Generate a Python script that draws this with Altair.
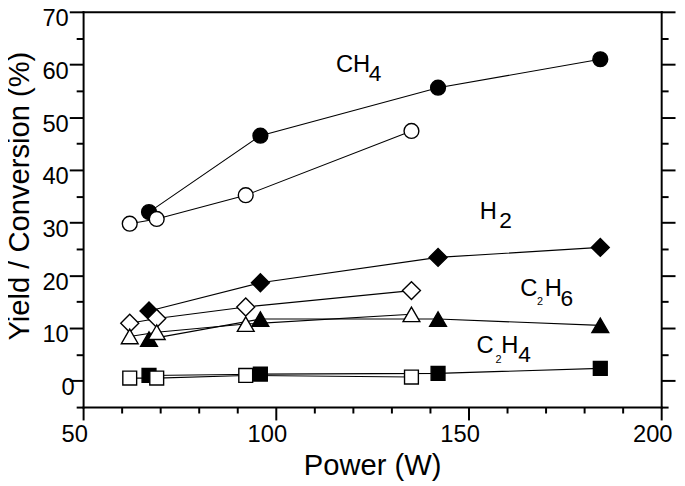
import altair as alt
import pandas as pd

FONT = "Liberation Sans"

# ---- data ----
power_filled = [67.1, 96.0, 142.1, 184.2]
power_open = [62.1, 69.1, 92.2, 135.2]

ch4_filled = [32.0, 46.5, 55.6, 61.0]
ch4_open = [29.8, 30.7, 35.2, 47.4]
h2_filled = [13.25, 18.6, 23.4, 25.3]
h2_open = [10.9, 11.8, 14.0, 17.1]
c2h6_filled = [7.9, 11.7, 11.7, 10.5]
c2h6_open = [8.4, 9.2, 10.75, 12.6]
c2h4_filled = [1.0, 1.25, 1.4, 2.35]
c2h4_open = [0.5, 0.5, 1.0, 0.7]

species = ["CH4", "H2", "C2H6", "C2H4"]
shapes = ["circle", "diamond", "triangle-up", "square"]
filled_vals = [ch4_filled, h2_filled, c2h6_filled, c2h4_filled]
open_vals = [ch4_open, h2_open, c2h6_open, c2h4_open]

# annotation pieces (chemical formulas with subscripts)
label_text = ["CH", "4", "H", "2", "C", "2", "H", "6", "C", "2", "H", "4"]
label_x = [115.6, 124.1, 152.9, 158.0, 163.4, 167.8, 169.8, 173.9, 152.1, 157.0, 158.5, 162.9]
label_y = [58.65, 56.8, 30.7, 28.9, 16.0, 14.3, 16.0, 14.15, 5.2, 3.35, 5.2, 3.5]
label_size = [24, 23, 24, 23, 24, 11, 24, 23, 24, 11, 24, 23]

rows = []
for sp, shp, fv, ov in zip(species, shapes, filled_vals, open_vals):
    for p, v in zip(power_filled, fv):
        rows.append({"series": sp + "_filled", "shape": shp, "kind": "filled", "power": p, "value": v})
    for p, v in zip(power_open, ov):
        rows.append({"series": sp + "_open", "shape": shp, "kind": "open", "power": p, "value": v})
df = pd.DataFrame(rows)
labels = pd.DataFrame({"text": label_text, "x": label_x, "y": label_y, "size": label_size})

marker_size = {"circle": 225, "diamond": 330, "triangle-up": 289, "square": 196}

x_scale = alt.Scale(domain=[50, 200], nice=False, zero=False)
y_scale = alt.Scale(domain=[-5, 70], nice=False, zero=False)

x_axis = alt.Axis(
    orient="bottom",
    values=list(range(50, 201, 10)),
    labelExpr="datum.value % 50 === 0 ? datum.label : ''",
    tickSize={"condition": {"test": "datum.value % 50 === 0", "value": 13}, "value": 6},
    tickWidth=2, tickColor="black", domainWidth=2, domainColor="black",
    labelFont=FONT, labelFontSize=24, labelColor="black", labelPadding=3, labelOffset=-9,
    labelOverlap=False, labelFlush=False, grid=False,
    title="Power (W)", titleFont=FONT, titleFontSize=29.5, titleFontWeight="normal",
    titleColor="black", titleBaseline="alphabetic", titleY=68,
)
y_axis = alt.Axis(
    orient="left",
    values=list(range(-5, 71, 5)),
    labelExpr="datum.value % 10 === 0 ? datum.label : ''",
    tickSize={"condition": {"test": "datum.value % 10 === 0", "value": 14}, "value": 7},
    labelPadding={"condition": {"test": "datum.value === 0", "value": -5}, "value": 1},
    tickWidth=2, tickColor="black", domainWidth=2, domainColor="black",
    labelFont=FONT, labelFontSize=24, labelColor="black", labelOffset=7,
    labelOverlap=False, labelFlush=False, grid=False,
    title="Yield / Conversion (%)", titleFont=FONT, titleFontSize=29.5, titleFontWeight="normal",
    titleColor="black", titleBaseline="alphabetic", titleX=-55, titleY=186,
)
x_axis_top = alt.Axis(orient="top", ticks=False, labels=False, title=None, grid=False,
                      domainWidth=2, domainColor="black")
y_axis_right = alt.Axis(
    orient="right", values=list(range(-5, 71, 5)), labels=False, title=None, grid=False,
    tickSize={"condition": {"test": "datum.value % 10 === 0", "value": 14}, "value": 7},
    tickWidth=2, tickColor="black", domainWidth=2, domainColor="black",
)

lines = alt.Chart(df).mark_line(color="black", strokeWidth=1.1).encode(
    x=alt.X("power:Q", scale=x_scale, axis=x_axis),
    y=alt.Y("value:Q", scale=y_scale, axis=y_axis),
    detail="series:N",
)

point_layers = []
for shp in shapes:
    point_layers.append(
        alt.Chart(df[df["shape"] == shp]).mark_point(
            shape=shp, size=marker_size[shp], filled=True, opacity=1,
            stroke="black", strokeWidth=1.4,
        ).encode(
            x=alt.X("power:Q", scale=x_scale, axis=None),
            y=alt.Y("value:Q", scale=y_scale, axis=None),
            fill=alt.Fill("kind:N", scale=alt.Scale(domain=["filled", "open"], range=["black", "white"]), legend=None),
        )
    )

texts = alt.Chart(labels).mark_text(align="left", baseline="alphabetic", font=FONT, color="black").encode(
    x=alt.X("x:Q", scale=x_scale, axis=None),
    y=alt.Y("y:Q", scale=y_scale, axis=None),
    text="text:N",
    size=alt.Size("size:Q", scale=None),
)

frame = alt.Chart(df).mark_point(opacity=0).encode(
    x=alt.X("power:Q", scale=x_scale, axis=x_axis_top),
    y=alt.Y("value:Q", scale=y_scale, axis=y_axis_right),
)

chart = alt.layer(lines, *point_layers, texts, frame).resolve_axis(
    x="independent", y="independent"
).properties(
    width=585, height=400,
    autosize=alt.AutoSizeParams(type="none"),
    padding={"left": 76, "top": 1, "right": 16, "bottom": 77},
).configure_view(stroke=None).configure_axis(domainCap="square")

chart.save("out.html", embed_options={"renderer": "svg", "actions": False})
